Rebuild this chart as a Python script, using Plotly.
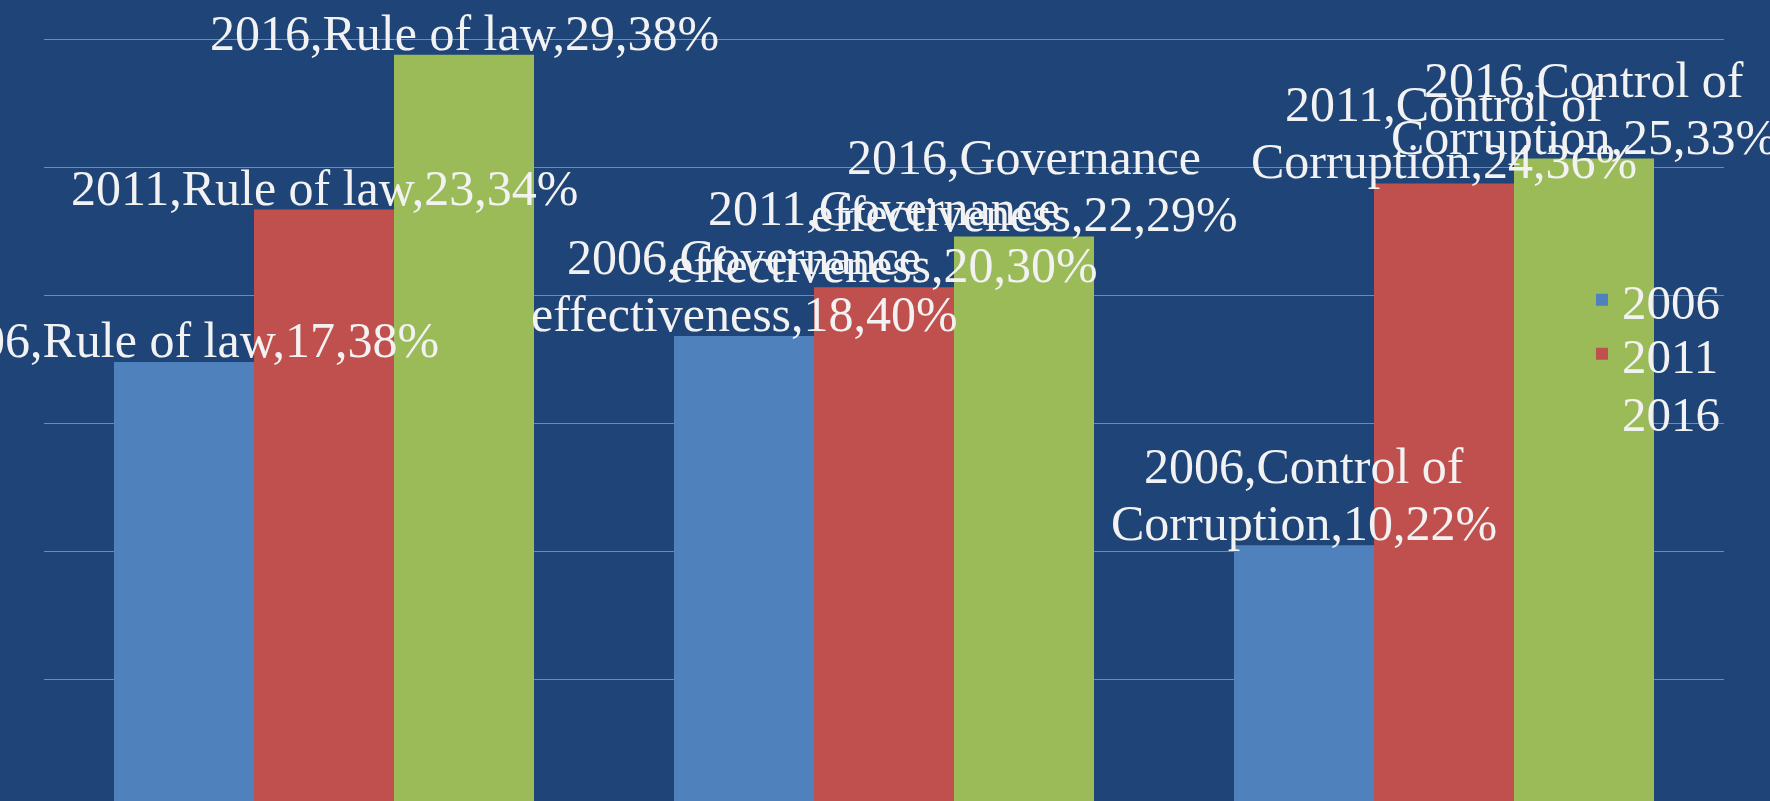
import plotly.graph_objects as go

categories = ["Rule of law", "Governance effectiveness", "Control of Corruption"]
category_label_lines = [["Rule of law"], ["Governance", "effectiveness"], ["Control of", "Corruption"]]
years = ["2006", "2011", "2016"]
values_2006 = [17.38, 18.40, 10.22]
values_2011 = [23.34, 20.30, 24.36]
values_2016 = [29.38, 22.29, 25.33]
series_values = [values_2006, values_2011, values_2016]
colors = ["#4F81BD", "#C0504D", "#9BBB59"]

BG = "#1F4477"
TEXT = "#F2F2F2"
LABEL_FONT = dict(family="Liberation Serif", size=50, color=TEXT)
bargap = 0.25
line_step = 57
legend_names = ["legend", "legend2", "legend3"]
legend_row_y = [300, 354, 412]

fig = go.Figure()
for yr, vals, col, lg in zip(years, series_values, colors, legend_names):
    fig.add_trace(go.Bar(name=yr, x=categories, y=vals, legend=lg,
                         marker=dict(color=col, line=dict(width=0))))

n = len(years)
bar_w = (1 - bargap) / n
annotations = []
for j, (yr, vals) in enumerate(zip(years, series_values)):
    for i, v in enumerate(vals):
        lines = list(category_label_lines[i])
        lines[0] = f"{yr}," + lines[0]
        lines[-1] = lines[-1] + "," + f"{v:.2f}".replace(".", ",") + "%"
        xpos = i + (j - (n - 1) / 2) * bar_w
        for k, ln in enumerate(reversed(lines)):
            annotations.append(dict(
                x=xpos, y=v, xref="x", yref="y", text=ln, showarrow=False,
                xanchor="center", yanchor="bottom", yshift=k * line_step - 8,
                font=LABEL_FONT,
            ))

legend_style = dict(
    x=(1582 - 44) / 1680, xanchor="left", yanchor="middle",
    bgcolor="rgba(0,0,0,0)",
    font=dict(family="Liberation Serif", size=49, color=TEXT),
)
legends = {lg: dict(legend_style, y=1 - ry / 801) for lg, ry in zip(legend_names, legend_row_y)}

fig.update_layout(
    width=1770, height=801,
    paper_bgcolor=BG, plot_bgcolor=BG,
    margin=dict(l=44, r=46, t=0, b=0, autoexpand=False),
    barmode="group", bargap=bargap, bargroupgap=0,
    showlegend=True,
    annotations=annotations,
    xaxis=dict(range=[-0.5, len(categories) - 0.5], autorange=False, showgrid=False,
               showticklabels=False, zeroline=False, showline=False, ticks=""),
    yaxis=dict(range=[6 / 25.6, 807 / 25.6], autorange=False, dtick=5, tick0=0, showgrid=True,
               gridcolor="#7F8799", gridwidth=1, zeroline=False, showticklabels=False,
               showline=False, ticks=""),
    **legends,
)

fig.write_html("out.html", config={"displayModeBar": False},
               post_script="document.body.style.margin='0';document.body.style.background='#1F4477';")
